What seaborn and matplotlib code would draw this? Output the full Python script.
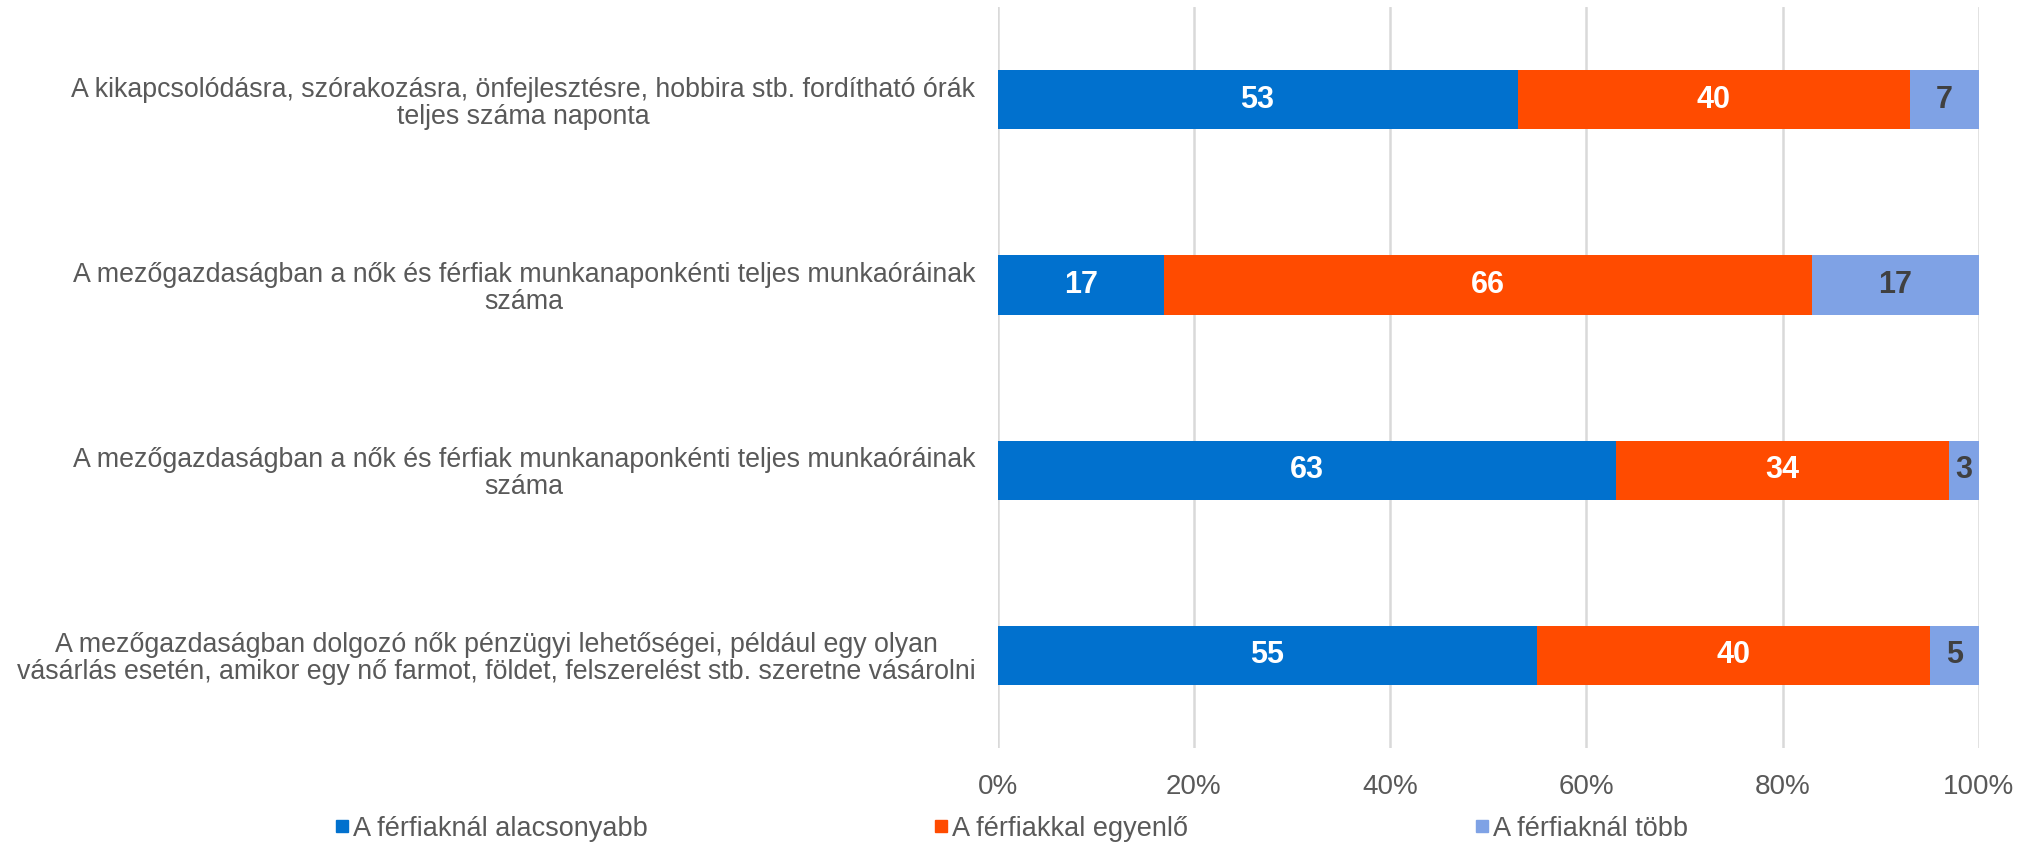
import numpy as np
import pandas as pd
import matplotlib
matplotlib.use("Agg")
import matplotlib.pyplot as plt
from matplotlib.lines import Line2D
from matplotlib.ticker import FuncFormatter
import seaborn as sns

# Adatok
kategoriak = [
    "A kikapcsolódásra, szórakozásra, önfejlesztésre, hobbira stb. fordítható órák\nteljes száma naponta",
    "A mezőgazdaságban a nők és férfiak munkanaponkénti teljes munkaóráinak\nszáma",
    "A mezőgazdaságban a nők és férfiak munkanaponkénti teljes munkaóráinak\nszáma",
    "A mezőgazdaságban dolgozó nők pénzügyi lehetőségei, például egy olyan\nvásárlás esetén, amikor egy nő farmot, földet, felszerelést stb. szeretne vásárolni",
]
alacsonyabb = [53, 17, 63, 55]
egyenlo = [40, 66, 34, 40]
tobb = [7, 17, 3, 5]
sorozatok = ["A férfiaknál alacsonyabb", "A férfiakkal egyenlő", "A férfiaknál több"]
szinek = ["#0171CE", "#FF4B00", "#7FA2E5"]
cimke_szinek = ["white", "white", "#404040"]
x_ticks = [0, 20, 40, 60, 80, 100]

sns.set_theme(style="white")
plt.rcParams["font.family"] = ["Liberation Sans", "DejaVu Sans"]

df = pd.DataFrame({
    "id": [f"k{i}" for i in range(len(kategoriak))],
    "alacsonyabb": alacsonyabb,
    "egyenlo": egyenlo,
    "tobb": tobb,
})
df["c1"] = df["alacsonyabb"]
df["c2"] = df["alacsonyabb"] + df["egyenlo"]
df["c3"] = df["c2"] + df["tobb"]

fig = plt.figure(figsize=(20.4, 8.44), dpi=100)
ax = fig.add_axes([0.489, 0.1137, 0.481, 0.878])

# halmozott sávok: hátulról előre
for col, szin in zip(["c3", "c2", "c1"], szinek[::-1]):
    sns.barplot(data=df, x=col, y="id", orient="h", color=szin, width=0.32,
                saturation=1, ax=ax, zorder=3, edgecolor="none", linewidth=0)

# értékcímkék
for i in range(len(df)):
    start = 0
    for j, col in enumerate(["alacsonyabb", "egyenlo", "tobb"]):
        v = df[col].iloc[i]
        ax.text(start + v / 2, i, f"{v}", ha="center", va="center",
                color=cimke_szinek[j], fontsize=22, fontweight="bold", zorder=5)
        start += v

ax.set_xlim(0, 100)
ax.set_ylim(len(df) - 0.5, -0.5)
ax.set_xticks(x_ticks)
ax.xaxis.set_major_formatter(FuncFormatter(lambda v, p: f"{v:.0f}%"))
ax.set_yticks(range(len(df)))
ax.set_yticklabels(kategoriak, multialignment="center", linespacing=1.05)
ax.set_xlabel("")
ax.set_ylabel("")
ax.grid(axis="x", color="#D9D9D9", linewidth=1.8, zorder=0)
ax.set_axisbelow(True)
for s in ax.spines.values():
    s.set_visible(False)
ax.tick_params(axis="x", length=0, pad=19, labelsize=20, labelcolor="#595959")
ax.tick_params(axis="y", length=0, pad=16, labelsize=19.3, labelcolor="#595959")

handles = [Line2D([0], [0], marker="s", linestyle="none", markersize=9,
                  markerfacecolor=c, markeredgecolor=c) for c in szinek]
fig.legend(handles, sorozatok, loc="center", bbox_to_anchor=(0.496, 0.018),
           ncol=3, frameon=False, fontsize=19.5, labelcolor="#595959",
           handlelength=0.45, handletextpad=0.2, columnspacing=10.6)

plt.savefig("out.png", dpi=100)
